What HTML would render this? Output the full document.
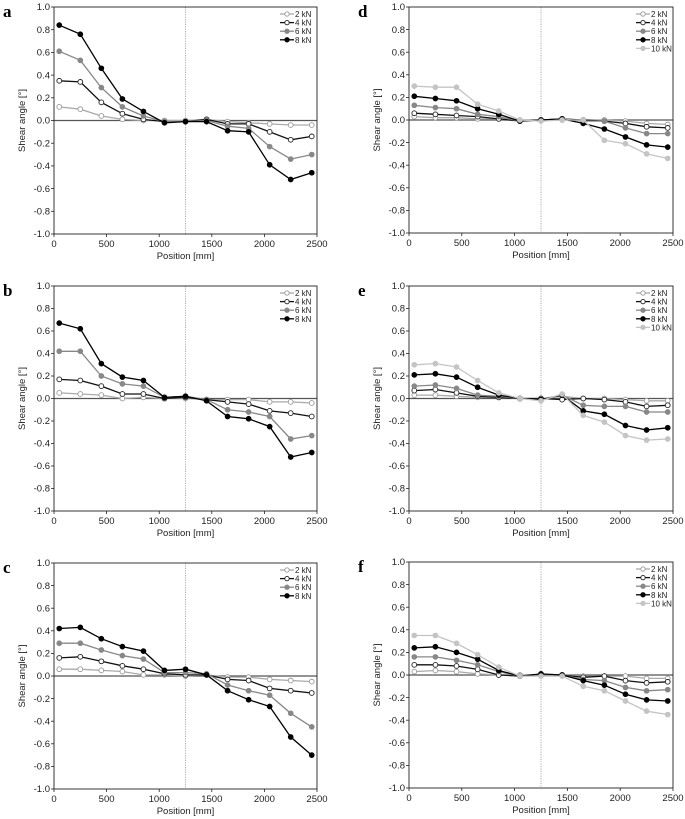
<!DOCTYPE html>
<html><head><meta charset="utf-8">
<style>
body{margin:0;background:#fff;}
svg{display:block;font-family:"Liberation Sans",Arial,sans-serif;}
</style></head>
<body>
<svg id="chart" width="685" height="819" viewBox="0 0 685 819" xmlns="http://www.w3.org/2000/svg"></svg>
<script>
const positions = [50,250,450,650,850,1050,1250,1450,1650,1850,2050,2250,2450];
const yTicks = [1.0,0.8,0.6,0.4,0.2,0.0,-0.2,-0.4,-0.6,-0.8,-1.0];
const xTicks = [0,500,1000,1500,2000,2500];
const loadsABC = ["2 kN","4 kN","6 kN","8 kN"];
const loadsDEF = ["2 kN","4 kN","6 kN","8 kN","10 kN"];

const a2 = [0.12,0.10,0.04,0.01,0.00,0.00,0.00,0.01,-0.01,-0.02,-0.03,-0.04,-0.04];
const a4 = [0.35,0.34,0.16,0.06,0.01,-0.01,-0.01,0.01,-0.03,-0.03,-0.10,-0.17,-0.14];
const a6 = [0.61,0.53,0.29,0.12,0.04,-0.01,-0.01,0.00,-0.05,-0.07,-0.23,-0.34,-0.30];
const a8 = [0.84,0.76,0.46,0.19,0.08,-0.02,-0.01,-0.01,-0.09,-0.10,-0.39,-0.52,-0.46];

const b2 = [0.05,0.04,0.03,0.00,0.01,0.00,0.00,-0.01,-0.01,-0.01,-0.03,-0.03,-0.04];
const b4 = [0.17,0.16,0.11,0.04,0.04,0.00,0.01,-0.01,-0.03,-0.05,-0.11,-0.13,-0.16];
const b6 = [0.42,0.42,0.20,0.13,0.11,0.01,0.02,-0.01,-0.10,-0.12,-0.16,-0.36,-0.33];
const b8 = [0.67,0.62,0.31,0.19,0.16,0.01,0.02,-0.02,-0.16,-0.18,-0.25,-0.52,-0.48];

const c2 = [0.06,0.06,0.05,0.04,0.01,0.01,0.00,0.01,-0.01,-0.01,-0.03,-0.04,-0.05];
const c4 = [0.16,0.17,0.13,0.09,0.06,0.02,0.01,0.01,-0.03,-0.04,-0.11,-0.13,-0.15];
const c6 = [0.29,0.29,0.23,0.18,0.15,0.03,0.03,0.02,-0.08,-0.13,-0.17,-0.33,-0.45];
const c8 = [0.42,0.43,0.33,0.26,0.22,0.05,0.06,0.01,-0.13,-0.21,-0.27,-0.54,-0.70];

const d2 = [0.03,0.02,0.02,0.01,0.01,0.00,0.00,0.00,0.00,0.00,-0.01,-0.03,-0.04];
const d4 = [0.06,0.05,0.04,0.03,0.01,-0.01,0.00,0.01,0.00,-0.01,-0.03,-0.06,-0.07];
const d6 = [0.13,0.11,0.10,0.05,0.03,-0.01,0.00,0.01,-0.01,-0.01,-0.07,-0.12,-0.12];
const d8 = [0.21,0.19,0.17,0.10,0.05,-0.01,0.00,0.01,-0.03,-0.08,-0.15,-0.22,-0.24];
const d10 = [0.30,0.29,0.29,0.14,0.08,0.00,-0.01,0.00,0.00,-0.18,-0.21,-0.30,-0.34];

const e2 = [0.03,0.03,0.02,0.01,0.01,0.00,0.00,0.02,0.00,0.00,-0.01,-0.02,-0.02];
const e4 = [0.07,0.08,0.05,0.02,0.01,0.00,0.00,-0.01,0.00,-0.01,-0.03,-0.07,-0.06];
const e6 = [0.11,0.12,0.09,0.03,0.02,0.00,-0.01,0.03,-0.06,-0.07,-0.07,-0.12,-0.12];
const e8 = [0.21,0.22,0.19,0.10,0.03,0.00,-0.01,0.03,-0.11,-0.14,-0.24,-0.28,-0.26];
const e10 = [0.30,0.31,0.28,0.16,0.05,0.00,-0.02,0.04,-0.15,-0.21,-0.33,-0.37,-0.36];

const f2 = [0.03,0.04,0.03,0.01,0.00,0.00,0.00,0.00,-0.01,-0.01,-0.01,-0.03,-0.03];
const f4 = [0.09,0.09,0.08,0.05,0.00,-0.01,0.00,0.00,-0.02,-0.01,-0.05,-0.07,-0.06];
const f6 = [0.16,0.16,0.13,0.09,0.03,-0.01,0.00,0.00,-0.04,-0.05,-0.11,-0.14,-0.13];
const f8 = [0.24,0.25,0.20,0.14,0.04,-0.01,0.01,0.00,-0.05,-0.09,-0.17,-0.22,-0.23];
const f10 = [0.35,0.35,0.28,0.18,0.07,-0.01,-0.01,-0.01,-0.10,-0.14,-0.23,-0.32,-0.35];

const STY = [
  {line:"#aaaaaa", fill:"#fff", stroke:"#999"},
  {line:"#111", fill:"#fff", stroke:"#222"},
  {line:"#888", fill:"#888", stroke:"#888"},
  {line:"#000", fill:"#000", stroke:"#000"},
  {line:"#c4c4c4", fill:"#c4c4c4", stroke:"#c4c4c4"}
];

const panels = [
  {id:"a", L:54, R:317, T:7, B:234, series:[a2,a4,a6,a8], labels:loadsABC},
  {id:"b", L:54, R:317, T:286, B:511, series:[b2,b4,b6,b8], labels:loadsABC},
  {id:"c", L:54, R:317, T:563, B:789, series:[c2,c4,c6,c8], labels:loadsABC},
  {id:"d", L:409, R:673, T:7, B:233, series:[d2,d4,d6,d8,d10], labels:loadsDEF},
  {id:"e", L:409, R:673, T:286, B:511, series:[e2,e4,e6,e8,e10], labels:loadsDEF},
  {id:"f", L:409, R:673, T:562, B:788, series:[f2,f4,f6,f8,f10], labels:loadsDEF}
];

const svg = document.getElementById("chart");
const NS = "http://www.w3.org/2000/svg";
function mk(tag, attrs, parent, text){
  const el = document.createElementNS(NS, tag);
  for (const k in attrs) el.setAttribute(k, attrs[k]);
  if (text !== undefined) el.textContent = text;
  parent.appendChild(el);
  return el;
}

panels.forEach(p => {
  const g = mk("g", {}, svg);
  
  
  const xs = v => p.L + (v/2500)*(p.R-p.L);
  const ys = v => p.T + (1 - v)/2*(p.B-p.T);

  const lab = mk("text", {x:p.L-51, y:p.T+10, "font-family":"Liberation Serif,serif", "font-weight":"bold", "font-size":"17"}, g, p.id);
  
  

  // dotted center line
  const vl = mk("line", {x1:xs(1250), x2:xs(1250), y1:p.T, y2:p.B, stroke:"#999", "stroke-width":"0.8", "stroke-dasharray":"1.2,1.2"}, g);
  
  
  // zero line
  const zl = mk("line", {x1:p.L, x2:p.R, y1:ys(0), y2:ys(0), stroke:"#555", "stroke-width":"1.3"}, g);
  
  

  // frame
  const fr = mk("rect", {x:p.L, y:p.T, width:p.R-p.L, height:p.B-p.T, fill:"none", stroke:"#222", "stroke-width":"0.9"}, g);
  
  

  yTicks.forEach(t => {
    const y = ys(t);
    mk("line", {x1:p.L-3, x2:p.L, y1:y, y2:y, stroke:"#222", "stroke-width":"0.8"}, g);
    const tl = mk("text", {x:p.L-4, y:y+3.2, "text-anchor":"end", "font-size":"9.5", fill:"#222"}, g, t.toFixed(1));
    
    
  });
  xTicks.forEach(t => {
    const x = xs(t);
    mk("line", {x1:x, x2:x, y1:p.B, y2:p.B+3, stroke:"#222", "stroke-width":"0.8"}, g);
    const tl = mk("text", {x:x, y:p.B+13, "text-anchor":"middle", "font-size":"9.5", fill:"#222"}, g, String(t));
    
    
  });
  const xt = mk("text", {x:(p.L+p.R)/2, y:p.B+25, "text-anchor":"middle", "font-size":"9.5", fill:"#222"}, g, "Position [mm]");
  
  
  const cy = ys(0);
  const yt = mk("text", {x:p.L-29, y:cy, "text-anchor":"middle", "font-size":"9.5", fill:"#222", transform:`rotate(-90 ${p.L-29} ${cy})`}, g, "Shear angle [°]");
  
  

  p.series.forEach((vals, i) => {
    const st = STY[i];
    const sg = mk("g", {}, g);
    
    
    const pts = vals.map((v,j) => xs(positions[j]).toFixed(1)+","+ys(v).toFixed(1)).join(" ");
    const pl = mk("polyline", {points:pts, fill:"none", stroke:st.line, "stroke-width":"1.3"}, sg);
    
    
    vals.forEach((v,j) => {
      const c = mk("circle", {cx:xs(positions[j]), cy:ys(v), r:2.4, fill:st.fill, stroke:st.stroke, "stroke-width":"0.9"}, sg);
      
      
    });
  });

  // legend
  const lg = mk("g", {}, g);
  
  
  const lx = p.R - 37, ly0 = p.T + 7;
  p.labels.forEach((name, i) => {
    const st = STY[i];
    const y = ly0 + i*8.6;
    const le = mk("g", {}, lg);
    
    
    mk("line", {x1:lx, x2:lx+14, y1:y, y2:y, stroke:st.line, "stroke-width":"1.3"}, le);
    mk("circle", {cx:lx+7, cy:y, r:2.2, fill:st.fill, stroke:st.stroke, "stroke-width":"0.9"}, le);
    mk("text", {x:lx+15, y:y+3, "font-size":"8", fill:"#222"}, le, name);
  });
});
</script>
</body></html>
